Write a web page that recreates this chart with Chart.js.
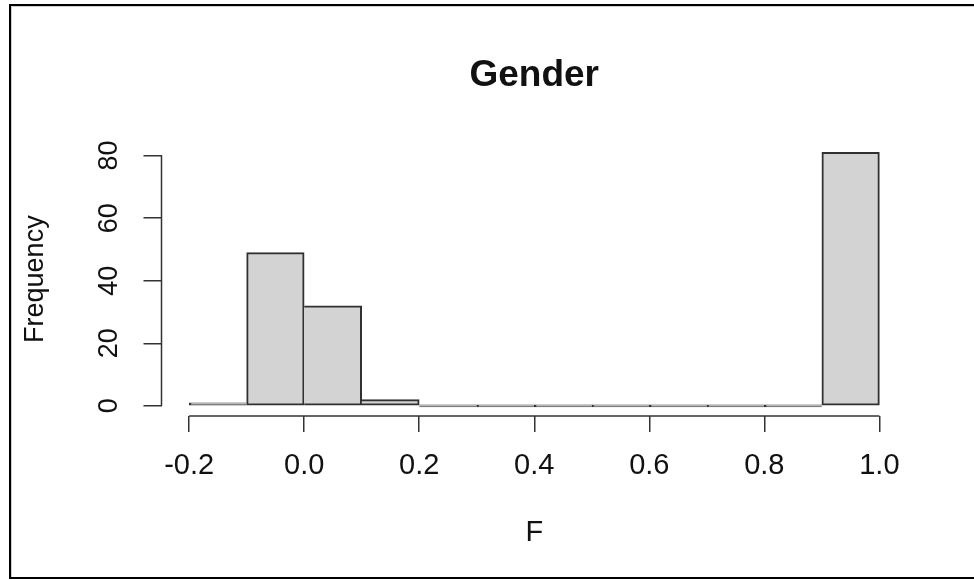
<!DOCTYPE html>
<html>
<head>
<meta charset="utf-8">
<script src="https://cdn.jsdelivr.net/npm/chart.js@4"></script>
<style>
  html, body { margin: 0; padding: 0; background: #fff; overflow: hidden; }
  #wrap { position: relative; width: 974px; height: 580px; }
  #c { position: absolute; left: 0; top: 0; }
  #frame {
    position: absolute; left: 9px; top: 4px; width: 990px; height: 571px;
    border-left: 2px solid #000; border-top: 2px solid #000; border-bottom: 2px solid #000;
    box-shadow: inset 1px 1px 0 #cfcfcf;
    pointer-events: none;
  }
</style>
</head>
<body>
<div id="wrap">
  <canvas id="c" width="974" height="580"></canvas>
  <div id="frame"></div>
</div>
<script>
// ---- data ----
const chartTitle = "Gender";
const xAxisTitle = "F";
const yAxisTitle = "Frequency";
const binEdges = [-0.2, -0.1, 0.0, 0.1, 0.2, 0.3, 0.4, 0.5, 0.6, 0.7, 0.8, 0.9, 1.0];
const binCounts = [1, 49, 32, 2, 0, 0, 0, 0, 0, 0, 0, 81];
const xTickValues = [-0.2, 0.0, 0.2, 0.4, 0.6, 0.8, 1.0];
const yTickValues = [0, 20, 40, 60, 80];

// R-style axis range: data range extended by 4% on each side
const xLo = binEdges[0], xHi = binEdges[binEdges.length - 1];
const yLo = 0, yHi = Math.max(...binCounts);
const xPad = (xHi - xLo) * 0.04, yPad = (yHi - yLo) * 0.04;

const points = binCounts.map((c, i) => ({ x: (binEdges[i] + binEdges[i + 1]) / 2, y: c }));

// one visible 2px edge between neighbouring bins, like R's overlapping rect outlines
function edgeWidths(ctx) {
  const i = ctx.dataIndex;
  const c = binCounts[i];
  const prev = binCounts[i - 1];
  const next = binCounts[i + 1];
  return {
    top: 2,
    bottom: 2,
    left: (prev === undefined || prev <= c) ? 2 : 0,
    right: (next === undefined || next < c) ? 2 : 0
  };
}

const axisLinePlugin = {
  id: 'rAxisLines',
  afterDraw(chart) {
    const ctx = chart.ctx;
    const xs = chart.scales.x, ys = chart.scales.y;
    ctx.save();
    ctx.strokeStyle = '#333';
    ctx.lineWidth = 1.5;
    ctx.beginPath();
    ctx.moveTo(xs.getPixelForValue(xTickValues[0]), xs.top);
    ctx.lineTo(xs.getPixelForValue(xTickValues[xTickValues.length - 1]), xs.top);
    ctx.moveTo(ys.right, ys.getPixelForValue(yTickValues[0]));
    ctx.lineTo(ys.right, ys.getPixelForValue(yTickValues[yTickValues.length - 1]));
    ctx.stroke();
    ctx.restore();
  }
};

new Chart(document.getElementById('c'), {
  type: 'bar',
  data: {
    datasets: [{
      data: points,
      backgroundColor: '#d3d3d3',
      borderColor: '#303030',
      borderWidth: edgeWidths,
      borderSkipped: false,
      minBarLength: 2,
      barPercentage: 1,
      categoryPercentage: 1
    }]
  },
  options: {
    responsive: false,
    animation: false,
    devicePixelRatio: 1,
    layout: { padding: { left: 0, right: 67, top: 0, bottom: 0 } },
    plugins: {
      legend: { display: false },
      tooltip: { enabled: false },
      title: {
        display: true,
        text: chartTitle,
        fullSize: false,
        color: '#111',
        font: { family: 'Liberation Sans, Arial, sans-serif', size: 37, weight: 'bold', lineHeight: 1.2 },
        padding: { top: 54, bottom: 43.9 }
      }
    },
    scales: {
      x: {
        type: 'linear',
        offset: false,
        min: xLo - xPad,
        max: xHi + xPad,
        afterBuildTicks(scale) { scale.ticks = xTickValues.map(v => ({ value: v })); },
        afterFit(scale) { scale.height = 164; },
        border: { display: false },
        grid: { display: true, offset: false, drawOnChartArea: false, drawTicks: true, tickLength: 16, color: '#333', lineWidth: 1.5 },
        ticks: {
          padding: 17,
          color: '#111',
          maxRotation: 0, minRotation: 0,
          autoSkip: false,
          font: { family: 'Liberation Sans, Arial, sans-serif', size: 29, lineHeight: 1.2 },
          callback: (v) => Number(v).toFixed(1)
        },
        title: {
          display: true,
          text: xAxisTitle,
          color: '#111',
          font: { family: 'Liberation Sans, Arial, sans-serif', size: 29, lineHeight: 1.2 },
          padding: { top: 0, bottom: 30 }
        }
      },
      y: {
        type: 'linear',
        min: yLo - yPad,
        max: yHi + yPad,
        afterBuildTicks(scale) { scale.ticks = yTickValues.map(v => ({ value: v })); },
        afterFit(scale) { scale.width = 161.5; },
        border: { display: false },
        grid: { display: true, offset: false, drawOnChartArea: false, drawTicks: true, tickLength: 18, color: '#333', lineWidth: 1.5 },
        ticks: {
          padding: 19,
          color: '#111',
          minRotation: 90, maxRotation: 90,
          crossAlign: 'center',
          autoSkip: false,
          font: { family: 'Liberation Sans, Arial, sans-serif', size: 27, lineHeight: 1.2 },
          callback: (v) => String(v)
        },
        title: {
          display: true,
          text: yAxisTitle,
          color: '#111',
          font: { family: 'Liberation Sans, Arial, sans-serif', size: 27, lineHeight: 1.2 },
          padding: { top: 19, bottom: 0 }
        }
      }
    }
  },
  plugins: [axisLinePlugin]
});
</script>
</body>
</html>
